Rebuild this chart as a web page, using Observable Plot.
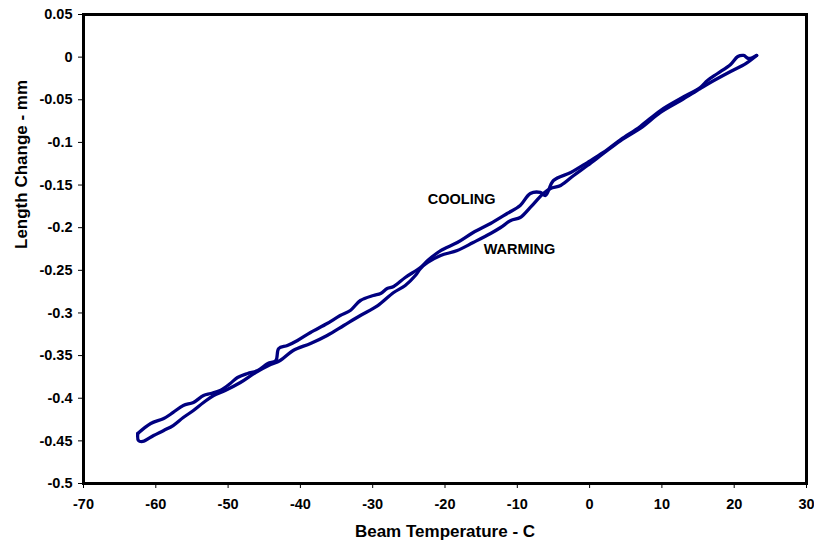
<!DOCTYPE html>
<html>
<head>
<meta charset="utf-8">
<script src="https://cdn.jsdelivr.net/npm/d3@7"></script>
<script src="https://cdn.jsdelivr.net/npm/@observablehq/plot@0.6"></script>
<style>
  html, body { margin: 0; padding: 0; background: #fff; }
</style>
</head>
<body>
<div id="chart"></div>
<script>
// Cooling branch (upper curve), from warm end to cold end
const coolingTemp = [23.1, 22.0, 21.3, 20.5, 19.5, 17.7, 16.3, 15.3, 12.6, 9.8, 7.0, 4.3, 1.9, -0.3, -2.6, -5.0, -6.1, -6.8, -8.2, -9.6, -11.4, -13.7, -16.1, -18.3, -20.6, -22.4, -23.4, -25.5, -27.1, -28.0, -28.9, -29.9, -31.7, -33.1, -34.5, -36.3, -38.6, -40.4, -41.8, -43.0, -43.4, -44.5, -45.9, -47.3, -48.7, -49.7, -51.1, -52.4, -53.4, -54.8, -56.2, -57.6, -58.9, -60.7, -62.5];
const coolingLen = [0.002, -0.0016, 0.002, 0.0007, -0.0086, -0.0192, -0.0274, -0.0356, -0.0485, -0.0626, -0.0813, -0.0966, -0.1118, -0.1236, -0.1353, -0.1447, -0.1623, -0.1587, -0.1599, -0.174, -0.1834, -0.1951, -0.2057, -0.2174, -0.2268, -0.2385, -0.2467, -0.2584, -0.269, -0.2713, -0.2772, -0.2795, -0.2854, -0.2971, -0.303, -0.3124, -0.3229, -0.3323, -0.3382, -0.3417, -0.3558, -0.3593, -0.3675, -0.371, -0.3757, -0.3827, -0.3909, -0.3945, -0.3968, -0.405, -0.4085, -0.4167, -0.4238, -0.4296, -0.4414];

// Warming branch (lower curve), from cold end to warm end
const warmingTemp = [-62.5, -62.4, -61.8, -60.3, -58.9, -57.6, -56.2, -54.8, -53.4, -52.0, -50.4, -48.3, -46.2, -44.4, -42.8, -41.0, -38.6, -36.3, -34.0, -31.7, -29.3, -27.1, -25.5, -24.1, -23.4, -22.4, -20.6, -18.3, -16.1, -13.7, -12.3, -10.9, -9.6, -8.2, -6.4, -5.4, -4.0, -2.2, -0.3, 1.9, 4.3, 7.0, 9.8, 12.6, 15.3, 16.7, 19.5, 21.6, 23.1];
const warmingLen = [-0.4414, -0.4496, -0.4507, -0.4437, -0.4378, -0.432, -0.4226, -0.4144, -0.405, -0.3968, -0.3909, -0.3816, -0.3698, -0.3616, -0.3558, -0.344, -0.3358, -0.3264, -0.3147, -0.303, -0.2913, -0.276, -0.2678, -0.2561, -0.2479, -0.2408, -0.2326, -0.2268, -0.2174, -0.2068, -0.1998, -0.1916, -0.1881, -0.1763, -0.1599, -0.154, -0.1505, -0.1388, -0.1271, -0.113, -0.0978, -0.0837, -0.0649, -0.0509, -0.0368, -0.0297, -0.0168, -0.0075, 0.002];

// Axis ticks
const xTicks = [-70, -60, -50, -40, -30, -20, -10, 0, 10, 20, 30];
const yTicks = [0.05, 0, -0.05, -0.1, -0.15, -0.2, -0.25, -0.3, -0.35, -0.4, -0.45, -0.5];
const xTitle = "Beam Temperature - C";
const yTitle = "Length Change - mm";

// Annotations
const labelText = ["COOLING", "WARMING"];
const labelTemp = [-17.7, -9.7];
const labelLen = [-0.167, -0.2256];

const cooling = coolingTemp.map((t, i) => ({t, d: coolingLen[i]}));
const warming = warmingTemp.map((t, i) => ({t, d: warmingLen[i]}));
const labels = labelText.map((s, i) => ({s, t: labelTemp[i], d: labelLen[i]}));

const fmt = d => String(+d.toFixed(2)).replace("\u2212", "-");

const chart = Plot.plot({
  width: 814,
  height: 541,
  marginLeft: 83,
  marginRight: 8,
  marginTop: 14,
  marginBottom: 58,
  style: {
    fontFamily: "'Liberation Sans', Arial, sans-serif",
    fontSize: "14.5px",
    fontWeight: "bold",
    color: "#000",
    background: "#fff"
  },
  x: {domain: [-70, 30], ticks: xTicks, tickFormat: fmt, tickSize: 5, tickPadding: 10, label: null},
  y: {domain: [-0.5, 0.05], ticks: yTicks, tickFormat: fmt, tickSize: 5, tickPadding: 6, label: null},
  marks: [
    Plot.line(cooling, {x: "t", y: "d", curve: "catmull-rom", stroke: "#000080", strokeWidth: 3.3, strokeLinejoin: "round", strokeLinecap: "round"}),
    Plot.line(warming, {x: "t", y: "d", curve: "catmull-rom", stroke: "#000080", strokeWidth: 3.3, strokeLinejoin: "round", strokeLinecap: "round"}),
    Plot.text(labels, {x: "t", y: "d", text: "s", fill: "#000", fontWeight: "bold", fontSize: 14.5}),
    Plot.text([xTitle], {frameAnchor: "bottom", dy: 48, lineAnchor: "middle", text: d => d, fill: "#000", fontWeight: "bold", fontSize: 17}),
    Plot.text([yTitle], {frameAnchor: "left", dx: -62, rotate: -90, lineAnchor: "middle", text: d => d, fill: "#000", fontWeight: "bold", fontSize: 17}),
    Plot.frame({stroke: "#000", strokeWidth: 3})
  ]
});
document.getElementById("chart").appendChild(chart);
</script>
</body>
</html>
